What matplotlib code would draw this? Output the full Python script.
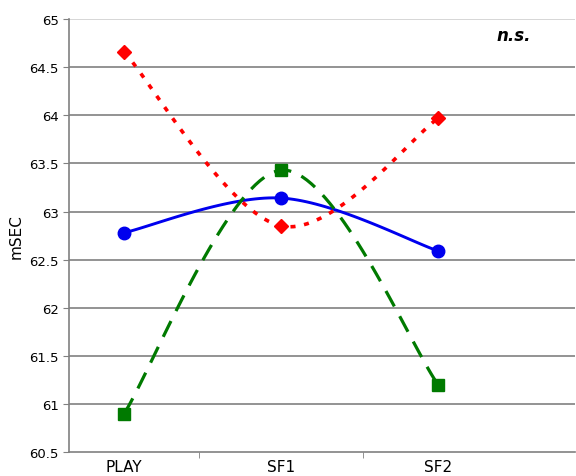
import matplotlib
matplotlib.use("Agg")
import matplotlib.pyplot as plt
import numpy as np

categories = ["PLAY", "SF1", "SF2"]
blue_vals = [62.78, 63.14, 62.59]
red_vals = [64.66, 62.85, 63.97]
green_vals = [60.90, 63.43, 61.20]


def smooth(y, n=40):
    # Excel style smoothed line (Catmull-Rom via cubic Bezier)
    x = np.arange(len(y), dtype=float)
    pts = np.column_stack([x, y])
    ext = np.vstack([pts[0], pts, pts[-1]])
    out = []
    t = np.linspace(0, 1, n)[:, None]
    for i in range(1, len(ext) - 2):
        p0, p1, p2, p3 = ext[i - 1], ext[i], ext[i + 1], ext[i + 2]
        c1 = p1 + (p2 - p0) / 6
        c2 = p2 - (p3 - p1) / 6
        seg = ((1 - t) ** 3) * p1 + 3 * ((1 - t) ** 2) * t * c1 + 3 * (1 - t) * t ** 2 * c2 + t ** 3 * p2
        out.append(seg)
    s = np.vstack(out)
    return s[:, 0], s[:, 1]


fig = plt.figure(figsize=(5.76, 4.77), dpi=100)
ax = fig.add_axes([0.12, 0.05, 0.878, 0.908])

xs = np.arange(len(categories))

bx, by = smooth(blue_vals)
ax.plot(bx, by, color="#0000ee", lw=2.1, zorder=3)
ax.plot(xs, blue_vals, "o", color="#0000ee", ms=9, zorder=4)

rx, ry = smooth(red_vals)
ax.plot(rx, ry, color="#ff0000", lw=2.6, dashes=(1.4, 2.4), zorder=3)
ax.plot(xs, red_vals, "D", color="#ff0000", ms=7.5, zorder=4)

gx, gy = smooth(green_vals)
ax.plot(gx, gy, color="#007a00", lw=2.3, dashes=(5.5, 3.5), zorder=3)
ax.plot(xs, green_vals, "s", color="#007a00", ms=8.5, zorder=4)

ax.set_xlim(-0.35, 2.87)
ax.set_ylim(60.5, 65)
ax.set_yticks(np.arange(60.5, 65.01, 0.5))
ax.set_yticklabels(["60.5", "61", "61.5", "62", "62.5", "63", "63.5", "64", "64.5", "65"])
ax.set_xticks(xs)
ax.set_xticklabels(categories, fontsize=11)
ax.set_xticks([0.48, 1.52], minor=True)
ax.tick_params(axis="x", which="major", length=0, pad=5)
ax.tick_params(axis="x", which="minor", length=4, color="#808080", direction="out")
ax.tick_params(axis="y", labelsize=9.5, length=4, color="#808080", direction="out")

for v in np.arange(61, 65.01, 0.5):
    ax.axhline(v, color="#d0d0d0" if v == 65 else "#808080", lw=1.2, zorder=1)

for side in ["top", "right"]:
    ax.spines[side].set_visible(False)
ax.spines["left"].set_color("#808080")
ax.spines["bottom"].set_color("#808080")
ax.spines["left"].set_linewidth(1.2)
ax.spines["bottom"].set_linewidth(1.2)

ax.set_ylabel("mSEC", fontsize=11, labelpad=4)
ax.text(2.48, 64.83, "n.s.", fontsize=12, fontweight="bold", fontstyle="italic", ha="center", va="center")

fig.savefig("out.png", dpi=100)
